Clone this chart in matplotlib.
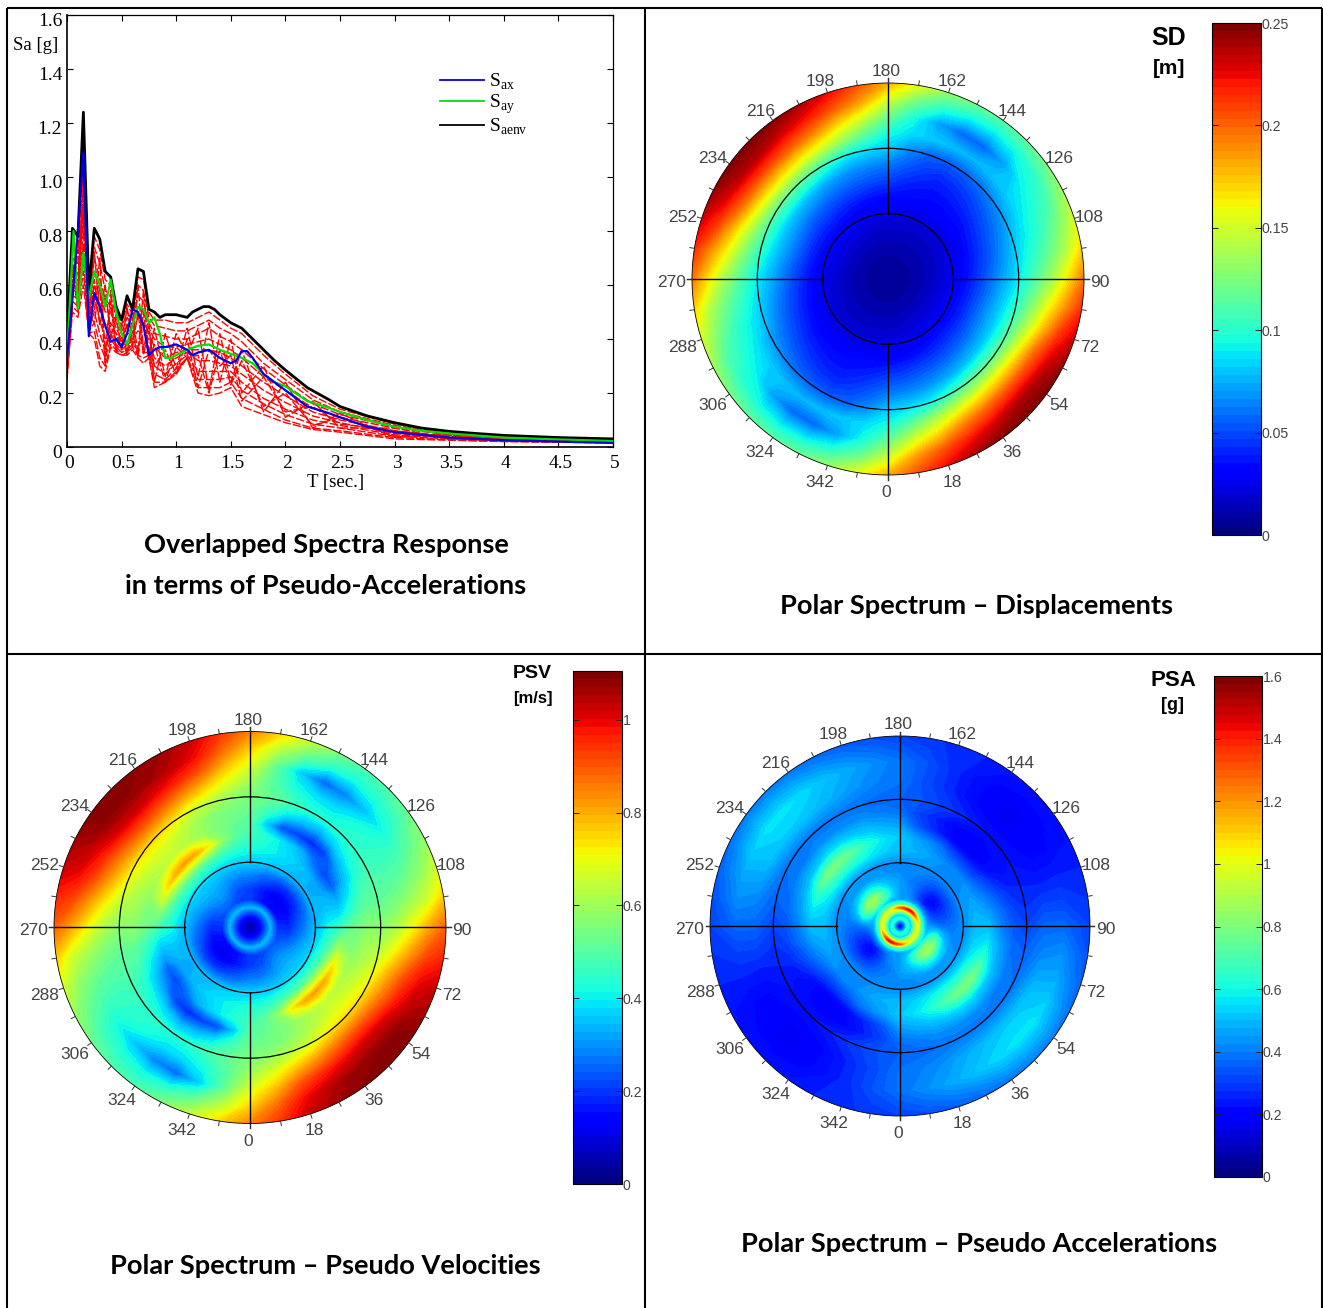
import numpy as np
import matplotlib
matplotlib.use("Agg")
import matplotlib.pyplot as plt
from matplotlib.cm import ScalarMappable
from matplotlib.colors import Normalize
from matplotlib.patches import Circle
from matplotlib.transforms import ScaledTranslation

W, H = 1323, 1308
plt.rcParams['mathtext.fontset'] = 'custom'
plt.rcParams['mathtext.rm'] = 'Liberation Serif'

# ---------- spectra ----------
T_BLACK = [0,.05,.1,.15,.2,.25,.3,.35,.4,.45,.5,.55,.6,.65,.7,.75,.8,.85,.9,1,1.1,1.15,1.2,1.25,1.3,1.35,1.4,1.5,1.6,1.7,1.8,1.9,2,2.2,2.4,2.5,2.75,3,3.25,3.5,3.75,4,4.5,5]
S_AENV = [.4,.81,.78,1.24,.58,.81,.77,.65,.63,.52,.47,.56,.51,.66,.65,.51,.5,.48,.49,.49,.48,.5,.51,.52,.52,.51,.49,.46,.44,.40,.36,.32,.285,.22,.175,.15,.115,.09,.07,.058,.05,.043,.035,.03]
T_GREEN = [0,.06,.1,.15,.2,.25,.3,.35,.4,.45,.5,.55,.6,.65,.7,.75,.8,.85,.9,.95,1,1.05,1.1,1.2,1.3,1.4,1.5,1.6,1.7,1.8,1.9,2,2.2,2.4,2.5,2.75,3,3.25,3.5,4,4.5,5]
S_AY = [.33,.8,.51,.72,.55,.65,.6,.52,.62,.5,.42,.38,.45,.52,.51,.46,.48,.42,.33,.33,.34,.35,.36,.375,.38,.36,.345,.33,.31,.27,.24,.225,.17,.145,.13,.10,.075,.06,.05,.035,.028,.022]
T_BLUE = [0,.05,.1,.15,.2,.25,.3,.35,.4,.45,.5,.55,.6,.65,.7,.75,.8,.85,.9,1,1.1,1.15,1.2,1.3,1.4,1.5,1.55,1.6,1.65,1.7,1.8,1.9,2,2.2,2.4,2.5,2.75,3,3.25,3.5,4,4.5,5]
S_AX = [.33,.55,.8,1.09,.41,.57,.52,.45,.39,.4,.37,.42,.51,.5,.45,.34,.36,.37,.37,.38,.36,.34,.35,.36,.33,.31,.32,.355,.355,.33,.27,.24,.21,.15,.125,.11,.075,.055,.045,.035,.025,.02,.015]
T_RED = [0,.05,.1,.15,.2,.25,.3,.35,.4,.45,.5,.55,.6,.65,.7,.75,.8,.9,1,1.1,1.2,1.3,1.4,1.5,1.6,1.8,2,2.25,2.5,3,3.5,4,5]
RED_1 = [.38,.78,.75,1.15,.55,.78,.73,.62,.6,.5,.45,.53,.49,.63,.62,.5,.47,.47,.46,.46,.48,.5,.47,.44,.42,.34,.27,.19,.14,.085,.055,.04,.028]
RED_2 = [.36,.74,.72,1.05,.53,.74,.68,.58,.56,.48,.44,.5,.47,.6,.58,.48,.45,.44,.43,.43,.45,.47,.44,.42,.39,.31,.25,.175,.13,.08,.05,.037,.027]
RED_3 = [.34,.7,.68,.95,.5,.7,.62,.55,.52,.46,.42,.48,.45,.56,.54,.46,.42,.41,.4,.4,.42,.44,.41,.39,.36,.29,.23,.16,.12,.075,.047,.035,.025]
RED_4 = [.32,.66,.64,.9,.5,.65,.58,.5,.5,.44,.4,.45,.44,.52,.5,.44,.4,.37,.37,.38,.39,.4,.38,.36,.33,.26,.21,.145,.11,.07,.045,.033,.024]
RED_5 = [.3,.62,.6,.85,.47,.6,.52,.45,.46,.42,.39,.42,.42,.48,.46,.42,.37,.33,.35,.36,.36,.36,.35,.33,.3,.24,.19,.13,.1,.06,.04,.03,.022]
RED_6 = [.29,.58,.58,.8,.45,.55,.47,.4,.43,.4,.38,.4,.4,.43,.42,.4,.33,.3,.33,.35,.32,.32,.31,.3,.27,.21,.165,.115,.09,.05,.036,.027,.02]
RED_7 = [.28,.56,.55,.75,.44,.5,.42,.36,.42,.38,.36,.38,.39,.39,.38,.37,.3,.27,.31,.34,.28,.28,.28,.28,.24,.18,.14,.1,.08,.045,.033,.025,.018]
RED_8 = [.27,.54,.52,.7,.43,.46,.38,.33,.4,.37,.35,.36,.38,.36,.35,.35,.27,.25,.29,.33,.25,.25,.25,.26,.21,.16,.12,.085,.07,.04,.03,.023,.017]
RED_9 = [.26,.52,.5,.65,.42,.43,.33,.3,.38,.36,.34,.35,.37,.34,.33,.34,.24,.24,.28,.33,.22,.22,.22,.24,.18,.14,.1,.07,.06,.035,.027,.021,.016]
RED_10 = [.25,.5,.48,.6,.42,.4,.3,.28,.37,.35,.34,.34,.36,.33,.31,.33,.22,.24,.27,.33,.2,.19,.2,.22,.15,.12,.09,.065,.055,.03,.025,.02,.015]
RED_11 = [.3,.7,.52,1.0,.47,.72,.5,.6,.4,.48,.36,.52,.38,.6,.36,.46,.24,.42,.29,.44,.26,.46,.24,.4,.2,.3,.11,.17,.07,.07,.03,.035,.016]
RED_12 = [.37,.55,.73,.75,.52,.5,.7,.34,.58,.36,.44,.35,.48,.35,.58,.34,.44,.26,.42,.34,.44,.21,.42,.24,.36,.13,.24,.07,.125,.035,.05,.021,.026]
RED_13 = [.28,.66,.5,1.1,.44,.62,.45,.56,.44,.42,.36,.46,.37,.5,.34,.43,.3,.36,.27,.4,.22,.36,.3,.34,.17,.26,.13,.15,.085,.06,.034,.03,.018]
RED_14 = [.33,.6,.62,.9,.49,.46,.6,.3,.54,.35,.41,.34,.43,.33,.5,.32,.38,.24,.37,.33,.34,.2,.36,.23,.32,.15,.2,.08,.11,.04,.044,.022,.023]
RED_CURVES = [RED_1, RED_2, RED_3, RED_4, RED_5, RED_6, RED_7, RED_8, RED_9, RED_10, RED_11, RED_12, RED_13, RED_14]
X_TICKS = [0,.5,1,1.5,2,2.5,3,3.5,4,4.5,5]
X_LABELS = ['0','0.5','1','1.5','2','2.5','3','3.5','4','4.5','5']
Y_TICKS = [0,.2,.4,.6,.8,1,1.2,1.4,1.6]
Y_LABELS = ['0','0.2','0.4','0.6','0.8','1.0','1.2','1.4','1.6']

# ---------- polar grids: each row is one direction (0..171 deg; the 180..351 half repeats it) ----------
THETA = [0,9,18,27,36,45,54,63,72,81,90,99,108,117,126,135,144,153,162,171]
SD_R = [0,.25,.5,.75,1,1.25,1.5,1.75,2,2.25,2.5,2.75,3]
SD_VAL = [
 [.004,.006,.01,.015,.022,.03,.045,.06,.08,.095,.12,.15,.18],
 [.004,.006,.01,.015,.023,.032,.047,.063,.085,.115,.15,.185,.205],
 [.004,.006,.01,.016,.024,.034,.05,.066,.09,.135,.17,.205,.225],
 [.004,.006,.011,.017,.025,.036,.052,.07,.1,.15,.19,.22,.24],
 [.004,.006,.011,.018,.026,.038,.054,.074,.11,.158,.2,.23,.248],
 [.004,.006,.011,.018,.027,.04,.056,.078,.115,.163,.205,.238,.25],
 [.004,.006,.011,.018,.027,.04,.058,.08,.115,.163,.205,.238,.25],
 [.004,.006,.011,.018,.027,.04,.06,.08,.11,.155,.198,.228,.245],
 [.004,.006,.011,.018,.026,.04,.06,.08,.105,.14,.178,.212,.232],
 [.004,.006,.01,.017,.025,.038,.056,.076,.097,.125,.158,.188,.215],
 [.004,.006,.01,.016,.024,.036,.052,.07,.088,.11,.135,.165,.195],
 [.004,.006,.01,.016,.023,.034,.048,.065,.083,.1,.118,.14,.17],
 [.004,.006,.01,.015,.022,.032,.045,.06,.078,.092,.105,.125,.15],
 [.004,.006,.01,.015,.021,.03,.042,.055,.07,.087,.098,.11,.135],
 [.004,.006,.01,.014,.02,.028,.038,.05,.064,.082,.09,.1,.122],
 [.004,.006,.01,.014,.02,.028,.036,.045,.058,.078,.07,.092,.115],
 [.004,.006,.01,.014,.02,.028,.034,.042,.054,.075,.056,.087,.112],
 [.004,.006,.01,.014,.02,.028,.034,.04,.052,.077,.056,.09,.118],
 [.004,.006,.01,.015,.02,.03,.036,.045,.055,.08,.07,.1,.13],
 [.004,.006,.01,.015,.021,.03,.04,.052,.065,.085,.095,.12,.155],
]
PSV_R = [0,.1,.2,.31,.42,.6,.8,1,1.2,1.4,1.6,1.8,2,2.25,2.5,2.75,3]
PSV_VAL = [
 [.03,.08,.18,.33,.2,.2,.28,.36,.42,.46,.5,.52,.55,.6,.68,.76,.85],
 [.03,.08,.18,.33,.2,.21,.28,.36,.43,.5,.52,.54,.58,.68,.78,.88,.94],
 [.03,.08,.18,.33,.2,.22,.29,.36,.45,.58,.55,.56,.62,.76,.9,.99,1.03],
 [.03,.08,.18,.33,.21,.25,.3,.36,.48,.72,.59,.6,.66,.82,.96,1.05,1.07],
 [.03,.08,.18,.33,.22,.28,.32,.37,.5,.8,.62,.64,.72,.87,1.0,1.08,1.09],
 [.03,.08,.18,.33,.23,.29,.33,.37,.52,.82,.64,.67,.74,.9,1.03,1.09,1.1],
 [.03,.08,.18,.33,.23,.28,.33,.37,.52,.8,.63,.67,.74,.89,1.02,1.09,1.1],
 [.03,.08,.18,.33,.22,.26,.32,.37,.5,.75,.61,.65,.72,.85,.97,1.05,1.07],
 [.03,.08,.18,.33,.21,.23,.3,.36,.47,.66,.58,.62,.68,.8,.92,1.0,1.03],
 [.03,.08,.18,.33,.2,.2,.28,.35,.44,.56,.55,.6,.62,.71,.82,.92,.96],
 [.03,.08,.18,.33,.18,.18,.26,.34,.41,.46,.53,.57,.57,.62,.71,.81,.89],
 [.03,.08,.18,.33,.17,.16,.24,.33,.37,.38,.46,.52,.52,.55,.6,.66,.76],
 [.03,.08,.18,.33,.15,.14,.22,.33,.34,.32,.4,.48,.5,.5,.53,.58,.66],
 [.03,.08,.18,.33,.14,.12,.2,.33,.32,.24,.34,.43,.47,.46,.47,.52,.58],
 [.03,.08,.18,.33,.13,.11,.19,.33,.32,.2,.3,.4,.45,.44,.41,.46,.53],
 [.03,.08,.18,.33,.13,.11,.19,.34,.34,.25,.2,.36,.44,.42,.35,.43,.49],
 [.03,.08,.18,.33,.14,.12,.2,.34,.36,.32,.17,.32,.43,.38,.28,.41,.48],
 [.03,.08,.18,.33,.15,.14,.22,.35,.38,.36,.2,.34,.44,.38,.25,.44,.55],
 [.03,.08,.18,.33,.16,.16,.24,.35,.4,.4,.22,.38,.48,.42,.36,.52,.64],
 [.03,.08,.18,.33,.18,.18,.26,.36,.41,.44,.35,.46,.52,.5,.52,.63,.75],
]
PSA_R = [0,.06,.12,.18,.24,.29,.34,.42,.5,.6,.72,.85,1,1.2,1.4,1.6,1.8,2,2.3,2.6,3]
PSA_CORE = [.1,.35,.65,.5,.9]
PSA_VAL = [
 [1.3,.75,.45,.45,.45,.45,.42,.42,.5,.52,.45,.38,.35,.38,.38,.3],
 [1.2,.72,.46,.5,.5,.47,.42,.42,.52,.55,.47,.4,.36,.4,.42,.32],
 [1.1,.7,.48,.58,.58,.5,.43,.42,.55,.6,.5,.42,.37,.43,.46,.34],
 [1.05,.7,.5,.68,.68,.55,.44,.42,.58,.68,.52,.42,.38,.47,.5,.36],
 [1.0,.7,.52,.76,.8,.6,.45,.42,.6,.76,.55,.42,.38,.5,.54,.38],
 [1.0,.7,.55,.8,.87,.62,.45,.42,.6,.8,.55,.42,.38,.52,.56,.39],
 [1.0,.7,.55,.8,.87,.6,.45,.42,.6,.8,.52,.4,.38,.52,.56,.39],
 [1.0,.7,.52,.72,.8,.56,.44,.42,.58,.72,.5,.4,.37,.5,.52,.37],
 [1.0,.7,.5,.62,.68,.5,.42,.42,.55,.62,.47,.38,.36,.45,.46,.35],
 [1.0,.7,.47,.52,.52,.44,.4,.42,.52,.55,.44,.36,.34,.4,.42,.32],
 [1.0,.68,.45,.42,.38,.37,.38,.42,.5,.5,.4,.33,.3,.36,.36,.3],
 [1.05,.68,.43,.35,.32,.32,.36,.42,.48,.45,.37,.3,.27,.3,.3,.27],
 [1.1,.68,.42,.3,.27,.28,.34,.42,.46,.4,.32,.26,.25,.24,.25,.25],
 [1.2,.68,.42,.27,.22,.25,.32,.42,.44,.35,.26,.22,.23,.2,.2,.23],
 [1.3,.7,.42,.25,.2,.23,.32,.42,.42,.3,.2,.2,.22,.18,.18,.22],
 [1.4,.72,.42,.25,.22,.25,.33,.42,.42,.3,.17,.18,.22,.17,.17,.22],
 [1.45,.75,.42,.3,.27,.3,.35,.42,.42,.32,.18,.18,.24,.18,.18,.23],
 [1.45,.75,.43,.35,.33,.35,.38,.42,.44,.38,.22,.2,.27,.22,.22,.25],
 [1.4,.75,.44,.4,.4,.38,.4,.42,.47,.42,.27,.25,.3,.27,.27,.27],
 [1.35,.75,.45,.43,.43,.4,.41,.42,.48,.46,.34,.3,.33,.32,.33,.28],
]
ANGLE_LABELS = [0,18,36,54,72,90,108,126,144,162,180,198,216,234,252,270,288,306,324,342]
RINGS = [1,2,3]
SD_TICKS = [0,.05,.1,.15,.2,.25]
SD_TICKLABELS = ['0','0.05','0.1','0.15','0.2','0.25']
PSV_TICKS = [0,.2,.4,.6,.8,1]
PSV_TICKLABELS = ['0','0.2','0.4','0.6','0.8','1']
PSA_TICKS = [0,.2,.4,.6,.8,1,1.2,1.4,1.6]
PSA_TICKLABELS = ['0','0.2','0.4','0.6','0.8','1','1.2','1.4','1.6']

fig = plt.figure(figsize=(W/100, H/100), dpi=100, facecolor='white')

def px_axes(l, t, r, b, **kw):
    return fig.add_axes([l/W, 1-b/H, (r-l)/W, (b-t)/H], **kw)

# table frame + all free text
bg = px_axes(0, 0, W, H)
bg.set_xlim(0, W); bg.set_ylim(H, 0); bg.axis('off')
for xs, ys in [([7,7],[8,H]), ([1322,1322],[8,H]), ([7,1322],[8,8]), ([645,645],[8,H]), ([7,1322],[654,654])]:
    bg.plot(xs, ys, color='black', lw=1.5, solid_capstyle='butt')

TITLE_FONT = dict(family='Lato', weight='bold', size=19.6, ha='center', va='center', color='black')
for x, y, s in [(326,545,'Overlapped Spectra Response'),
                (326,586,'in terms of Pseudo-Accelerations'),
                (977,606,'Polar Spectrum – Displacements'),
                (325,1266,'Polar Spectrum – Pseudo Velocities'),
                (979,1244,'Polar Spectrum – Pseudo Accelerations')]:
    bg.text(x, y, s, **TITLE_FONT)
for x, y, s, fs in [(1169,38,'SD',18),(1169,69,'[m]',15),(532,674,'PSV',14),(533,698,'[m/s]',12),
                    (1173,681,'PSA',16),(1172,705,'[g]',13)]:
    bg.text(x, y, s, family='Liberation Sans', weight='bold', size=fs, ha='center', va='center')

# spectra panel
ax = px_axes(67, 15, 613, 447)
for curve in RED_CURVES:
    ax.plot(T_RED, curve, color='red', lw=1.0, dashes=(6, 1.5))
ax.plot(T_BLACK, S_AENV, color='black', lw=2.0, label=r'S$_{\mathrm{aenv}}$', zorder=4)
ax.plot(T_GREEN, S_AY, color='#00e000', lw=1.6, label=r'S$_{\mathrm{ay}}$', zorder=5)
ax.plot(T_BLUE, S_AX, color='#0000e6', lw=1.6, label=r'S$_{\mathrm{ax}}$', zorder=6)
ax.set_xlim(0, 5); ax.set_ylim(0, 1.6)
ax.set_xticks(X_TICKS, X_LABELS, family='Liberation Serif', size=14)
ax.set_yticks(Y_TICKS, Y_LABELS, family='Liberation Serif', size=14)
ax.tick_params(direction='in', top=True, right=True, length=4, width=0.8)
ax.tick_params(axis='y', pad=3.5)
ax.tick_params(axis='x', pad=6)
for lab in ax.get_yticklabels():
    lab.set_transform(lab.get_transform() + ScaledTranslation(0, -4/100, fig.dpi_scale_trans))
for lab in ax.get_xticklabels():
    lab.set_transform(lab.get_transform() + ScaledTranslation(2/100, 0, fig.dpi_scale_trans))
for side, sp in ax.spines.items():
    sp.set_linewidth(1.2 if side in ('left', 'bottom') else 0.9)
handles, labels = ax.get_legend_handles_labels()
leg = ax.legend(handles[::-1], labels[::-1], loc='upper left', bbox_to_anchor=(373/546, 1-57/432), frameon=False,
                prop=dict(family='Liberation Serif', size=14), handlelength=2.26, handletextpad=0.28,
                labelspacing=0.02, borderpad=0, borderaxespad=0)
for line in leg.get_lines():
    line.set_linewidth(1.3)
bg.text(336, 482, 'T [sec.]', family='Liberation Serif', size=13.5, ha='center', va='center')
bg.text(36, 46, 'Sa [g]', family='Liberation Serif', size=13.5, ha='center', va='center')

jet = plt.get_cmap('jet', 64)

def polar_panel(cx, cy, R, radii, grid, vmax):
    pad = R + 32
    a = px_axes(cx-pad, cy-pad, cx+pad, cy+pad)
    lim = 3 * pad / R
    a.set_xlim(-lim, lim); a.set_ylim(-lim, lim); a.axis('off')
    grid = np.asarray(grid, float)
    deg = np.r_[THETA, np.asarray(THETA)+180, 360.]
    rad = np.r_[radii, 3.15]
    vals = np.vstack([grid, grid, grid[:1]])
    vals = np.hstack([vals, vals[:, -1:]])
    th = np.radians(deg)
    X = np.outer(np.sin(th), rad)
    Y = np.outer(-np.cos(th), rad)
    cs = a.contourf(X, Y, vals, levels=np.linspace(0, vmax, 65), cmap='jet', extend='both')
    clip = Circle((0, 0), 3, transform=a.transData)
    cs.set_clip_path(clip)
    for r in RINGS:
        a.add_patch(Circle((0, 0), r, fc='none', ec='black', lw=0.9 if r < 3 else 0.6))
    for d in (0, 90, 180, 270):
        t = np.radians(d)
        a.plot([np.sin(t), 3.07*np.sin(t)], [-np.cos(t), -3.07*np.cos(t)], color='black', lw=1.0)
    for d in np.arange(0, 360, 9):
        t = np.radians(d)
        a.plot([3*np.sin(t), 3.07*np.sin(t)], [-3*np.cos(t), -3.07*np.cos(t)], color='#333333', lw=0.7)
    rx = 3 * (R + 18) / R
    ry = 3 * (R + 14.5) / R
    for d in ANGLE_LABELS:
        t = np.radians(d)
        a.annotate(str(d), (rx*np.sin(t), -ry*np.cos(t)), xytext=(-1.5, -2.2), textcoords='offset points',
                   family='Liberation Sans', size=12.5, color='#444444', ha='center', va='center')

def colorbar(l, t, r, b, vmax, ticks, labels):
    c = px_axes(l, t, r, b)
    cb = fig.colorbar(ScalarMappable(Normalize(0, vmax), jet), cax=c, ticks=ticks)
    cb.ax.set_yticklabels(labels, family='Liberation Sans', size=10.2, color='#444444')
    cb.ax.tick_params(direction='in', left=True, right=True, length=4, width=0.7, pad=0.5, color='#222222')
    cb.outline.set_linewidth(0.8)

polar_panel(888, 279, 196, SD_R, SD_VAL, 0.25)
colorbar(1212, 23, 1261, 535, 0.25, SD_TICKS, SD_TICKLABELS)
polar_panel(250, 927.5, 196, PSV_R, PSV_VAL, 1.105)
colorbar(573, 671, 622, 1184, 1.105, PSV_TICKS, PSV_TICKLABELS)
polar_panel(900, 926, 190, PSA_R, [PSA_CORE + row for row in PSA_VAL], 1.6)
colorbar(1214, 676, 1262, 1177, 1.6, PSA_TICKS, PSA_TICKLABELS)

fig.savefig('out.png', dpi=100)
